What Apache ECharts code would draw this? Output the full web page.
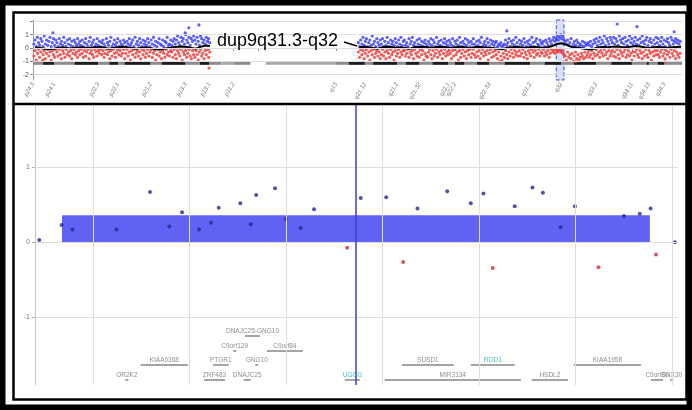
<!DOCTYPE html>
<html>
<head>
<meta charset="utf-8">
<script src="https://cdn.jsdelivr.net/npm/echarts@6/dist/echarts.min.js"></script>
<style>
html,body{margin:0;padding:0;background:#fff}
#chart{width:692px;height:410px}
</style>
</head>
<body>
<div id="chart"></div>
<script>
// ---------- Chromosome 9 overview (positions in Mb) ----------
// probe log2 ratios in tenths, one probe every 0.25 Mb along each arm
const PROBE_STEP = 0.25;
const pArmStart = 0.2;
const qArmStart = 70.8;

const pArmBlue = [
  3,6,1,8,4,2,7,5,1,9,3,6,2,5,8,1,4,7,2,6,
  4,1,7,3,5,2,8,4,1,6,3,7,2,5,1,6,4,2,7,3,
  5,2,6,1,4,7,3,1,5,8,2,4,6,1,3,7,2,5,1,4,
  6,3,1,7,4,2,5,8,1,3,6,2,4,7,1,5,3,2,6,4,
  1,5,3,7,2,4,6,1,8,3,5,2,7,4,1,6,3,5,2,7,
  4,1,6,3,8,2,5,1,4,7,3,2,6,1,5,4,8,2,3,6,
  2,5,7,3,6,9,4,2,8,5,7,3,10,6,4,8,2,7,5,9,
  6,3,8,5,2,9,7,4,6,3,8,5,7,4
];
const pArmRed = [
  -6,-2,-9,-4,-1,-7,-3,-10,-5,-2,-8,-4,-1,-6,-3,-9,-2,-5,-7,-1,
  -3,-6,-1,-5,-8,-2,-4,-7,-1,-5,-3,-6,-2,-8,-4,-1,-5,-3,-7,-2,
  -5,-1,-4,-7,-2,-6,-3,-1,-8,-4,-2,-5,-7,-1,-3,-6,-2,-4,-1,-5,
  -2,-7,-4,-1,-5,-3,-8,-2,-6,-1,-4,-7,-3,-1,-5,-2,-6,-4,-1,-8,
  -4,-1,-6,-3,-9,-2,-5,-1,-7,-4,-2,-6,-3,-8,-1,-5,-2,-7,-4,-1,
  -6,-3,-1,-7,-4,-2,-9,-5,-1,-6,-3,-8,-2,-4,-7,-1,-5,-3,-6,-2,
  -3,-7,-1,-5,-8,-2,-4,-6,-1,-9,-3,-5,-2,-7,-4,-1,-6,-8,-2,-5,
  -7,-2,-5,-9,-3,-1,-6,-4,-8,-2,-5,-1,-7,-3
];
const qArmBlue = [
  4,1,6,3,8,2,5,7,1,4,6,2,9,3,5,1,7,4,2,6,
  3,7,1,5,2,8,4,1,6,3,5,2,7,4,1,6,3,8,2,5,
  6,2,4,1,7,3,5,8,2,4,1,6,3,7,2,5,1,4,6,3,
  1,5,3,7,2,6,4,1,8,3,5,2,6,1,4,7,3,5,2,6,
  4,2,7,1,5,3,6,2,8,4,1,5,3,7,2,6,4,1,5,3,
  7,3,1,5,2,6,4,8,1,3,5,2,7,4,1,6,3,5,2,4,
  5,1,3,2,4,1,2,3,6,2,4,7,1,5,3,6,2,8,4,1,
  6,3,5,2,7,4,1,5,3,6,2,8,4,1,5,7,3,2,6,4,
  3,5,1,6,4,2,7,5,3,6,8,5,7,9,6,8,10,7,9,6,
  5,3,6,2,4,7,1,3,5,2,6,4,1,3,2,5,1,4,2,3,
  4,2,5,1,3,6,4,7,2,5,8,3,6,4,9,2,7,5,3,8,
  6,4,8,3,7,5,2,9,6,4,7,3,8,5,2,6,9,4,7,3,
  5,8,3,6,2,7,4,9,5,3,6,8,2,5,7,4,1,6,3,8,
  4,7,2,5,8,3,6,1,5,7,4,2,8,6,3,5,7,4,6,3,
  5
];
const qArmRed = [
  -3,-7,-1,-5,-2,-8,-4,-1,-6,-3,-9,-2,-5,-1,-7,-4,-2,-6,-3,-8,
  -5,-1,-6,-3,-8,-2,-4,-7,-1,-5,-3,-9,-2,-6,-4,-1,-7,-3,-5,-2,
  -2,-6,-4,-1,-7,-3,-5,-2,-8,-1,-4,-6,-3,-7,-1,-5,-2,-9,-4,-6,
  -7,-3,-1,-5,-8,-2,-6,-4,-1,-7,-3,-5,-2,-8,-4,-1,-6,-3,-5,-2,
  -4,-8,-2,-6,-1,-5,-3,-9,-2,-7,-4,-1,-6,-3,-8,-2,-5,-1,-7,-4,
  -1,-5,-7,-3,-6,-2,-8,-4,-1,-6,-3,-5,-2,-9,-4,-1,-7,-3,-6,-2,
  -5,-8,-3,-10,-6,-9,-4,-7,-2,-5,-8,-3,-6,-1,-4,-7,-2,-5,-3,-6,
  -2,-6,-4,-1,-7,-3,-5,-8,-2,-4,-6,-1,-3,-7,-2,-5,-4,-1,-6,-3,
  -4,-1,-6,-3,-5,-2,-7,-4,-1,-3,-2,-4,-1,-3,-2,-1,-3,-2,-4,-5,
  -6,-9,-3,-7,-5,-8,-4,-10,-6,-3,-8,-5,-9,-7,-4,-6,-8,-3,-7,-5,
  -3,-7,-5,-2,-8,-4,-6,-1,-5,-3,-7,-2,-4,-6,-1,-5,-3,-8,-2,-6,
  -4,-2,-6,-3,-7,-1,-5,-8,-2,-4,-6,-3,-1,-7,-5,-2,-6,-4,-9,-3,
  -6,-3,-1,-5,-7,-2,-4,-8,-3,-6,-1,-5,-7,-2,-4,-9,-3,-6,-2,-5,
  -2,-5,-7,-3,-1,-6,-4,-8,-2,-5,-3,-7,-1,-4,-6,-2,-8,-3,-5,-7,
  -4
];
// isolated probes far from the band: [Mb, log2 ratio]
const outlierBlue = [[4.35,1.13],[33.1,1.13],[33.9,1.52],[36.1,1.73],[103.1,1.28],[127.1,1.8],[131.4,1.6],[139.5,1.22]];
const outlierRed  = [[2.2,-0.9],[38.3,-1.5],[118.1,-1.03],[137.5,-1.03]];

// moving average of the log2 ratio, one value per Mb
const pTrendStart = 0.5;
const pTrend = [0.05,0.0,-0.05,-0.1,-0.05,0.02,0.05,0.0,-0.02,0.03,0.05,0.02,0.0,0.05,0.08,0.03,-0.05,0.0,0.05,0.1,
  0.05,0.0,-0.05,0.02,0.05,0.0,-0.08,-0.12,-0.05,0.0,0.05,0.1,0.12,0.08,0.0,-0.05,0.1,0.18,0.15];
const qTrendStart = 71;
const qTrend = [0.05,0.1,0.05,0.0,-0.05,0.05,0.1,0.08,0.02,0.05,
  0.0,-0.05,0.05,0.08,0.1,0.05,0.02,0.08,0.1,0.05,
  0.0,0.05,0.1,0.05,-0.02,0.05,0.08,0.05,0.02,0.0,
  -0.05,-0.1,0.0,0.05,0.08,0.05,0.02,0.05,0.08,0.05,
  0.02,0.05,0.15,0.3,0.35,0.25,0.1,0.05,0.0,-0.05,
  -0.12,-0.05,0.05,0.08,0.05,0.1,0.12,0.08,0.05,0.1,
  0.15,0.12,0.05,0.0,0.05,0.08,0.05,0.02,0.05,0.08,0.1];

// cytobands of chromosome 9: [start Mb, end Mb, stain]
const chr9Bands = [
  [0,2.2,'gneg'],[2.2,4.6,'gpos'],[4.6,9.0,'gneg'],[9.0,14.2,'gpos'],[14.2,16.6,'gneg'],[16.6,18.5,'gpos'],
  [18.5,19.9,'gneg'],[19.9,25.6,'gpos'],[25.6,28.0,'gneg'],[28.0,33.2,'gpos'],[33.2,36.3,'gneg'],[36.3,38.4,'gpos'],
  [38.4,41.0,'gneg'],[41.0,43.6,'gvar'],[43.6,47.3,'gneg'],[47.3,50.7,'acen'],[50.7,65.9,'gvar'],[65.9,68.7,'gneg'],
  [68.7,72.2,'gpos'],[72.2,74.0,'gneg'],[74.0,79.2,'gpos'],[79.2,81.1,'gneg'],[81.1,84.1,'gpos'],[84.1,86.9,'gneg'],
  [86.9,90.4,'gpos'],[90.4,91.8,'gneg'],[91.8,93.9,'gpos'],[93.9,96.6,'gneg'],[96.6,99.3,'gpos'],[99.3,102.6,'gneg'],
  [102.6,108.2,'gpos'],[108.2,111.3,'gneg'],[111.3,114.9,'gpos'],[114.9,117.7,'gneg'],[117.7,122.5,'gpos'],
  [122.5,125.8,'gneg'],[125.8,130.3,'gpos'],[130.3,133.5,'gneg'],[133.5,134.0,'gpos'],[134.0,135.9,'gneg'],
  [135.9,137.4,'gpos'],[137.4,141.2,'gneg']
];
// band labels shown under the overview: [name, start Mb]
const bandLabels = [
  ['p24.3',0],['p24.1',4.6],['p22.3',14.2],['p22.1',18.5],['p21.2',25.6],['p13.3',33.2],['p13.1',38.4],
  ['p11.2',43.6],['',49.0],['q13',65.9],['q21.12',72.2],['q21.2',79.2],['q21.32',84.1],['q22.1',90.4],
  ['q22.2',91.8],['q22.33',99.3],['q31.2',108.2],['q32',114.9],['q33.2',122.5],['q34.11',130.3],
  ['q34.13',134.0],['q34.3',137.4]
];
const regionTitle = 'dup9q31.3-q32';

// ---------- Zoomed region 9q31.3-q32 (positions in Mb) ----------
const detailRange = [113.85, 115.516];
const detailPos = [113.861,113.919,113.947,114.061,114.148,114.198,114.231,114.275,114.306,114.326,
  114.382,114.409,114.423,114.472,114.500,114.538,114.573,114.659,114.694,114.760,114.804,114.841,
  114.918,114.979,115.012,115.036,115.093,115.139,115.166,115.212,115.249,115.310,115.376,115.417,
  115.445,115.459,115.508];
const detailVal = [0.03,0.23,0.17,0.17,0.67,0.21,0.40,0.17,0.26,0.46,
  0.52,0.24,0.63,0.72,0.31,0.19,0.44,-0.07,0.59,0.60,-0.26,0.45,
  0.68,0.52,0.65,-0.34,0.48,0.73,0.66,0.20,0.48,-0.33,0.35,0.38,
  0.45,-0.16,0.00];
// called aberration segment: [start, end, mean log2 ratio]
const segments = [[113.920, 115.443, 0.36]];
const cursorPos = 114.681;
const detailGrid = [114.0, 114.25, 114.5, 114.75, 115.0, 115.25, 115.5];
// genes: [symbol, start, end, lane, highlighted]
const genes = [
  ['DNAJC25-GNG10',114.394,114.433,0,false],
  ['C9orf129',114.365,114.370,1,false],
  ['C9orf84',114.451,114.544,1,false],
  ['KIAA0368',114.124,114.246,2,false],
  ['PTGR1',114.311,114.352,2,false],
  ['GNG10',114.422,114.427,2,false],
  ['SUSD1',114.801,114.935,2,false],
  ['ROD1',114.979,115.093,2,true],
  ['KIAA1958',115.246,115.420,2,false],
  ['OR2K2',114.085,114.091,3,false],
  ['ZNF483',114.288,114.342,3,false],
  ['DNAJC25',114.391,114.409,3,false],
  ['UGCG',114.653,114.692,3,true],
  ['MIR3134',114.756,115.109,3,false],
  ['HSDL2',115.137,115.231,3,false],
  ['C9orf80',115.446,115.477,3,false],
  ['SNX30',115.497,115.503,3,false]
];

// ---------- drawing ----------
const laneLevel = [-1.247, -1.447, -1.633, -1.833];
const IDEO_LEVEL = -1.15;
const stainColor = { gneg: '#8c8c8c', gpos: '#1c1c1c', gvar: '#a8a8a8' };

const armPoints = (start, arr) => arr.map((v, i) => [start + i * PROBE_STEP, v / 10]);
const trendPoints = (start, arr) => arr.map((v, i) => [start + i, v]);

const blueOverview = armPoints(pArmStart, pArmBlue).concat(armPoints(qArmStart, qArmBlue), outlierBlue);
const redOverview = armPoints(pArmStart, pArmRed).concat(armPoints(qArmStart, qArmRed), outlierRed);

const detailPoints = detailPos.map((x, i) => [x, detailVal[i]]);
const labelMap = {};
bandLabels.forEach(b => { labelMap[b[1].toFixed(1)] = b[0]; });

const chart = echarts.init(document.getElementById('chart'));

const gridLine = { color: '#dedede', width: 1, type: 'solid' };

chart.setOption({
  animation: false,
  backgroundColor: '#fff',
  grid: [
    { left: 33, top: 20, width: 649, height: 60 },
    { left: 35, top: 105, width: 643, height: 280 }
  ],
  xAxis: [
    {
      gridIndex: 0, type: 'value', min: 0, max: 141.2,
      axisLine: { show: true, lineStyle: { color: '#9a9a9a', width: 1 } },
      axisTick: { show: true, customValues: bandLabels.map(b => b[1]), length: 3, lineStyle: { color: '#888' } },
      axisLabel: {
        show: true, customValues: bandLabels.map(b => b[1]), rotate: 60, margin: 3,
        fontSize: 6, color: '#777', fontFamily: 'Liberation Sans, Arial, sans-serif', fontStyle: 'italic',
        formatter: v => labelMap[Number(v).toFixed(1)] || ''
      },
      splitLine: { show: false }
    },
    {
      gridIndex: 1, type: 'value', min: detailRange[0], max: detailRange[1],
      axisLine: { show: false }, axisTick: { show: false }, axisLabel: { show: false }, splitLine: { show: false }
    }
  ],
  yAxis: [
    {
      gridIndex: 0, type: 'value', min: -2.4, max: 2.1,
      axisLine: { show: true, lineStyle: { color: '#9a9a9a' } },
      axisTick: { show: true, customValues: [-2, -1, 0, 1, 2], length: 3, lineStyle: { color: '#888' } },
      axisLabel: { show: true, customValues: [-2, -1, 0, 1], fontSize: 7, color: '#555', margin: 4,
        fontFamily: 'Liberation Sans, Arial, sans-serif' },
      splitLine: { show: false }
    },
    {
      gridIndex: 1, type: 'value', min: -1.9, max: 1.83,
      axisLine: { show: true, lineStyle: { color: '#c4c4c4' } },
      axisTick: { show: true, customValues: [-1, 0, 1], length: 3, lineStyle: { color: '#aaa' } },
      axisLabel: { show: true, customValues: [-1, 0, 1], fontSize: 7, color: '#777', margin: 5,
        fontFamily: 'Liberation Sans, Arial, sans-serif' },
      splitLine: { show: false }
    }
  ],
  series: [
    // overview: ideogram bar with grid lines
    {
      type: 'custom', xAxisIndex: 0, yAxisIndex: 0, z: 1, silent: true,
      data: chr9Bands.map(b => [b[0], b[1]]),
      encode: { x: [0, 1] },
      renderItem: (params, api) => {
        const b = chr9Bands[params.dataIndex];
        if (b[2] === 'acen') return null;
        const a = api.coord([b[0], IDEO_LEVEL]);
        const e = api.coord([b[1], IDEO_LEVEL]);
        return { type: 'rect', shape: { x: a[0], y: a[1] - 1.5, width: e[0] - a[0], height: 3 },
          style: { fill: stainColor[b[2]] } };
      },
      markLine: {
        silent: true, symbol: 'none', label: { show: false }, lineStyle: gridLine,
        data: [{ yAxis: 2 }, { yAxis: 1 }, { yAxis: 0 }, { yAxis: -1 }, { yAxis: -2 }]
      }
    },
    {
      type: 'scatter', xAxisIndex: 0, yAxisIndex: 0, z: 2, silent: true,
      symbolSize: 3.2, itemStyle: { color: '#3338ff' }, data: blueOverview,
      markArea: {
        silent: true,
        itemStyle: { color: 'rgba(120,140,255,0.28)', borderColor: '#3a46e0', borderWidth: 1, borderType: 'dashed' },
        data: [[{ xAxis: detailRange[0], yAxis: 2.25 }, { xAxis: detailRange[1], yAxis: -2.4 }]]
      }
    },
    {
      type: 'scatter', xAxisIndex: 0, yAxisIndex: 0, z: 2, silent: true,
      symbolSize: 3.2, itemStyle: { color: '#f23330' }, data: redOverview
    },
    {
      type: 'line', xAxisIndex: 0, yAxisIndex: 0, z: 3, silent: true, showSymbol: false,
      lineStyle: { color: '#000', width: 2 }, data: trendPoints(pTrendStart, pTrend)
    },
    {
      type: 'line', xAxisIndex: 0, yAxisIndex: 0, z: 3, silent: true, showSymbol: false,
      lineStyle: { color: '#000', width: 2 }, data: trendPoints(qTrendStart, qTrend)
    },
    // detail: gene track with grid lines
    {
      type: 'custom', xAxisIndex: 1, yAxisIndex: 1, z: 1, silent: true,
      data: genes.map(g => [g[1], g[2], laneLevel[g[3]]]),
      encode: { x: [0, 1], y: 2 },
      renderItem: (params, api) => {
        const g = genes[params.dataIndex];
        const lvl = laneLevel[g[3]];
        const a = api.coord([g[1], lvl]);
        const e = api.coord([g[2], lvl]);
        let x0 = a[0], x1 = e[0];
        if (x1 - x0 < 3) { const m = (x0 + x1) / 2; x0 = m - 1.5; x1 = m + 1.5; }
        return {
          type: 'group',
          children: [
            { type: 'rect', shape: { x: x0, y: a[1] - 1, width: x1 - x0, height: 2 }, style: { fill: '#a4a4a4' } },
            { type: 'text', x: (x0 + x1) / 2, y: a[1] - 5,
              style: { text: g[0], fill: g[4] ? '#3bbccc' : '#8e8e8e', fontSize: 6.5,
                fontFamily: 'Liberation Sans, Arial, sans-serif', align: 'center', verticalAlign: 'middle' } }
          ]
        };
      },
      markLine: {
        silent: true, symbol: 'none', label: { show: false }, lineStyle: gridLine,
        data: [{ yAxis: 1 }, { yAxis: 0 }, { yAxis: -1 }].concat(detailGrid.map(v => ({ xAxis: v })))
      }
    },
    // detail: called segment
    {
      type: 'custom', xAxisIndex: 1, yAxisIndex: 1, z: 2, silent: true,
      data: segments,
      encode: { x: [0, 1], y: 2 },
      renderItem: (params, api) => {
        const a = api.coord([api.value(0), api.value(2)]);
        const e = api.coord([api.value(1), 0]);
        return { type: 'rect', shape: { x: a[0], y: a[1], width: e[0] - a[0], height: e[1] - a[1] },
          style: { fill: 'rgba(80,80,242,0.9)' } };
      }
    },
    // detail: probe log2 ratios
    {
      type: 'scatter', xAxisIndex: 1, yAxisIndex: 1, z: 3, silent: true,
      symbolSize: 4,
      itemStyle: { color: p => (p.value[1] < 0 ? '#d42b3c' : '#26288f') },
      data: detailPoints,
      markLine: {
        silent: true, symbol: 'none', label: { show: false },
        lineStyle: { color: '#3c3ccf', width: 1.5, type: 'solid' },
        data: [{ xAxis: cursorPos }]
      }
    }
  ],
  graphic: [
    { type: 'rect', silent: true, z: 100, shape: { x: 0, y: 0, width: 692, height: 410 },
      style: { fill: 'none', stroke: '#000', lineWidth: 11 } },
    { type: 'rect', silent: true, z: 100, shape: { x: 13.5, y: 12.5, width: 673, height: 387 },
      style: { fill: 'none', stroke: '#000', lineWidth: 2.5 } },
    { type: 'line', silent: true, z: 100, shape: { x1: 13, y1: 104, x2: 687, y2: 104 },
      style: { stroke: '#000', lineWidth: 2.5 } },
    { type: 'text', silent: true, z: 100, x: 217, y: 41,
      style: { text: regionTitle, fill: '#000', fontSize: 18, fontFamily: 'Liberation Sans, Arial, sans-serif',
        verticalAlign: 'middle' } },
    { type: 'line', silent: true, z: 100, shape: { x1: 344, y1: 42, x2: 357, y2: 46 },
      style: { stroke: '#000', lineWidth: 1.5 } }
  ]
});
</script>
</body>
</html>
